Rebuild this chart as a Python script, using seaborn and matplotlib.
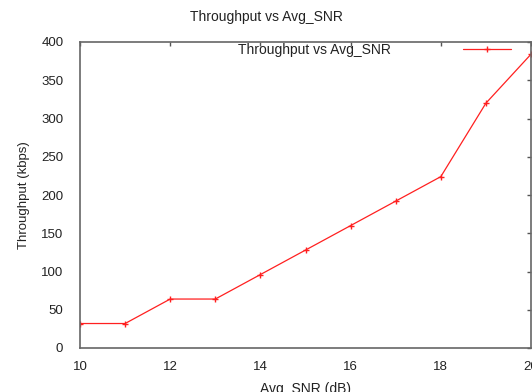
import pandas as pd
import matplotlib
matplotlib.use("Agg")
import matplotlib.pyplot as plt
import seaborn as sns

# values
avg_snr = [10, 11, 12, 13, 14, 15, 16, 17, 18, 19, 20]
throughput = [32, 32, 64, 64, 96, 128, 160, 192, 224, 320, 384]
x_ticks = [10, 12, 14, 16, 18, 20]
y_ticks = [0, 50, 100, 150, 200, 250, 300, 350, 400]

data = pd.DataFrame({"Avg_SNR": avg_snr, "Throughput": throughput})

sns.set_style("white")
plt.rcParams["font.family"] = ["Liberation Sans", "DejaVu Sans"]

fig = plt.figure(figsize=(5.32, 3.92), dpi=100)
ax = fig.add_axes([80 / 532, 1 - 348 / 392, 451 / 532, 306 / 392])

red = "#ff2020"
sns.lineplot(data=data, x="Avg_SNR", y="Throughput", ax=ax, color=red,
             linewidth=0.9, marker="+", markersize=5, markeredgewidth=1,
             markeredgecolor=red, label="Throughput vs Avg_SNR")

ax.set_xlim(10, 20)
ax.set_ylim(0, 400)
ax.set_xticks(x_ticks)
ax.set_yticks(y_ticks)
ax.tick_params(direction="in", length=3, width=1, colors="#555555",
               labelcolor="#222222", labelsize=9.5, top=True, right=True)
ax.tick_params(axis="y", pad=12)
ax.tick_params(axis="x", pad=9)
for s in ax.spines.values():
    s.set_color("#666666")
    s.set_linewidth(1.2)

ax.set_xlabel("Avg_SNR (dB)", fontsize=10, color="#222222", labelpad=7)
ax.set_ylabel("Throughput (kbps)", fontsize=9.5, color="#222222", labelpad=8)
fig.suptitle("Throughput vs Avg_SNR", fontsize=10, color="#222222", y=0.975)

ax.legend(loc="upper right", frameon=False, markerfirst=False, fontsize=10,
          handlelength=3.45, handletextpad=5.2, borderaxespad=0.1,
          bbox_to_anchor=(0.97, 1.02), labelcolor="#222222")

fig.savefig("out.png", dpi=100)
